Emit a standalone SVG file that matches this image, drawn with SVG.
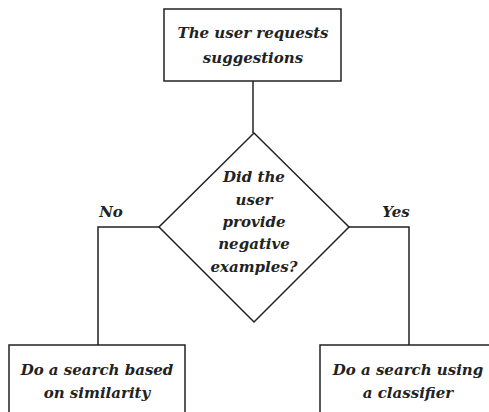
<svg xmlns="http://www.w3.org/2000/svg" width="489" height="412" viewBox="0 0 489 412">
<style>
.box{fill:#fff;stroke:#222;stroke-width:1.5}
.ln{fill:none;stroke:#222;stroke-width:1.5}
text{font-family:"DejaVu Serif",serif;font-style:italic;font-weight:bold;font-size:15px;fill:#222;text-anchor:middle}
</style>
<rect width="489" height="412" fill="#fff"/>
<g id="connectors">
<line class="ln" x1="253" y1="81" x2="253" y2="133"/>
<polyline class="ln" points="159,227 98,227 98,345"/>
<polyline class="ln" points="349,227 409,227 409,345"/>
</g>
<g id="start">
<rect class="box" x="164" y="9" width="177" height="72"/>
<text x="253" y="38">The user requests</text>
<text x="253" y="63">suggestions</text>
</g>
<g id="decision">
<polygon class="box" points="254,133 349,227 254,322 159,227"/>
<text x="254" y="182">Did the</text>
<text x="254" y="205">user</text>
<text x="254" y="227">provide</text>
<text x="254" y="249">negative</text>
<text x="254" y="272">examples?</text>
</g>
<g id="label-no"><text x="111" y="217">No</text></g>
<g id="label-yes"><text x="396" y="217">Yes</text></g>
<g id="similarity">
<rect class="box" x="9" y="345" width="176" height="80"/>
<text x="97" y="375">Do a search based</text>
<text x="97" y="398">on similarity</text>
</g>
<g id="classifier">
<rect class="box" x="320" y="345" width="178" height="80"/>
<text x="408" y="375">Do a search using</text>
<text x="408" y="398">a classifier</text>
</g>
</svg>
